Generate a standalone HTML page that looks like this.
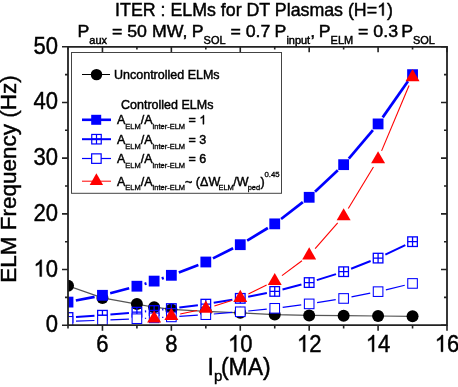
<!DOCTYPE html><html><head><meta charset="utf-8"><style>html,body{margin:0;padding:0;background:#fff;width:458px;height:387px;overflow:hidden}svg{display:block;will-change:transform}text{font-family:"Liberation Sans",sans-serif;fill:#000;stroke:#000;stroke-width:0.45px}</style></head><body><svg width="458" height="387" viewBox="0 0 458 387" font-family="Liberation Sans, sans-serif"><defs><clipPath id="pc"><rect x="68.0" y="46.8" width="379.0" height="278.4"/></clipPath></defs><g clip-path="url(#pc)"><polyline points="68.00,285.78 102.45,297.92 136.91,304.04 154.14,307.22 171.36,309.39 205.82,311.39 240.27,312.78 274.73,314.62 309.18,315.40 343.64,315.68 378.09,316.01 412.55,316.29" fill="none" stroke="#555" stroke-width="1.2"/><g fill="#000"><circle cx="68.00" cy="285.78" r="6"/><circle cx="102.45" cy="297.92" r="6"/><circle cx="136.91" cy="304.04" r="6"/><circle cx="154.14" cy="307.22" r="6"/><circle cx="171.36" cy="309.39" r="6"/><circle cx="205.82" cy="311.39" r="6"/><circle cx="240.27" cy="312.78" r="6"/><circle cx="274.73" cy="314.62" r="6"/><circle cx="309.18" cy="315.40" r="6"/><circle cx="343.64" cy="315.68" r="6"/><circle cx="378.09" cy="316.01" r="6"/><circle cx="412.55" cy="316.29" r="6"/></g><g stroke="#0000ff" stroke-width="2.7" fill="none"><line x1="75.85" y1="300.55" x2="94.61" y2="296.85"/><line x1="110.19" y1="293.26" x2="129.17" y2="288.26"/><line x1="144.58" y1="283.94" x2="146.47" y2="283.38"/><line x1="161.72" y1="278.55" x2="163.78" y2="277.86"/><line x1="178.83" y1="272.43" x2="198.36" y2="264.89"/><line x1="212.97" y1="258.41" x2="233.12" y2="248.28"/><line x1="247.12" y1="240.55" x2="267.88" y2="228.00"/><line x1="281.06" y1="218.98" x2="302.85" y2="202.19"/><line x1="314.99" y1="191.80" x2="337.83" y2="170.18"/><line x1="348.80" y1="158.57" x2="372.93" y2="130.03"/><line x1="382.68" y1="117.36" x2="407.96" y2="81.20"/></g><g fill="#0000ff"><rect x="62.60" y="296.69" width="10.8" height="10.8"/><rect x="97.05" y="289.90" width="10.8" height="10.8"/><rect x="131.51" y="280.82" width="10.8" height="10.8"/><rect x="148.74" y="275.70" width="10.8" height="10.8"/><rect x="165.96" y="269.91" width="10.8" height="10.8"/><rect x="200.42" y="256.60" width="10.8" height="10.8"/><rect x="234.87" y="239.29" width="10.8" height="10.8"/><rect x="269.33" y="218.46" width="10.8" height="10.8"/><rect x="303.78" y="191.90" width="10.8" height="10.8"/><rect x="338.24" y="159.27" width="10.8" height="10.8"/><rect x="372.69" y="118.52" width="10.8" height="10.8"/><rect x="407.15" y="69.24" width="10.8" height="10.8"/></g><g stroke="#0000ff" stroke-width="2" fill="none"><line x1="75.98" y1="316.97" x2="94.47" y2="315.76"/><line x1="110.42" y1="314.53" x2="128.94" y2="312.91"/><line x1="144.87" y1="311.42" x2="146.18" y2="311.29"/><line x1="162.09" y1="309.61" x2="163.41" y2="309.46"/><line x1="179.30" y1="307.55" x2="197.88" y2="305.16"/><line x1="213.71" y1="302.81" x2="232.38" y2="299.68"/><line x1="248.12" y1="296.78" x2="266.88" y2="293.00"/><line x1="282.48" y1="289.43" x2="301.43" y2="284.56"/><line x1="316.81" y1="280.16" x2="336.01" y2="274.10"/><line x1="351.08" y1="268.76" x2="370.65" y2="261.04"/><line x1="385.31" y1="254.66" x2="405.32" y2="245.12"/></g><g stroke="#0000ff" stroke-width="1.3"><rect x="63.20" y="312.70" width="9.6" height="9.6" fill="none"/><path d="M63.20 317.50H72.80M68.00 312.70V322.30"/><rect x="97.65" y="310.43" width="9.6" height="9.6" fill="none"/><path d="M97.65 315.23H107.25M102.45 310.43V320.03"/><rect x="132.11" y="307.41" width="9.6" height="9.6" fill="none"/><path d="M132.11 312.21H141.71M136.91 307.41V317.01"/><rect x="149.34" y="305.70" width="9.6" height="9.6" fill="none"/><path d="M149.34 310.50H158.94M154.14 305.70V315.30"/><rect x="166.56" y="303.77" width="9.6" height="9.6" fill="none"/><path d="M166.56 308.57H176.16M171.36 303.77V313.37"/><rect x="201.02" y="299.33" width="9.6" height="9.6" fill="none"/><path d="M201.02 304.13H210.62M205.82 299.33V308.93"/><rect x="235.47" y="293.56" width="9.6" height="9.6" fill="none"/><path d="M235.47 298.36H245.07M240.27 293.56V303.16"/><rect x="269.93" y="286.62" width="9.6" height="9.6" fill="none"/><path d="M269.93 291.42H279.53M274.73 286.62V296.22"/><rect x="304.38" y="277.77" width="9.6" height="9.6" fill="none"/><path d="M304.38 282.57H313.98M309.18 277.77V287.37"/><rect x="338.84" y="266.89" width="9.6" height="9.6" fill="none"/><path d="M338.84 271.69H348.44M343.64 266.89V276.49"/><rect x="373.29" y="253.31" width="9.6" height="9.6" fill="none"/><path d="M373.29 258.11H382.89M378.09 253.31V262.91"/><rect x="407.75" y="236.88" width="9.6" height="9.6" fill="none"/><path d="M407.75 241.68H417.35M412.55 236.88V246.48"/></g><g stroke="#0000ff" stroke-width="1.2" fill="none"><line x1="76.00" y1="321.09" x2="94.46" y2="320.48"/><line x1="110.45" y1="319.87" x2="128.92" y2="319.05"/><line x1="144.90" y1="318.31" x2="146.15" y2="318.25"/><line x1="162.12" y1="317.40" x2="163.38" y2="317.33"/><line x1="179.35" y1="316.37" x2="197.83" y2="315.18"/><line x1="213.79" y1="314.00" x2="232.30" y2="312.45"/><line x1="248.23" y1="310.98" x2="266.77" y2="309.11"/><line x1="282.66" y1="307.29" x2="301.25" y2="304.90"/><line x1="317.08" y1="302.64" x2="335.73" y2="299.69"/><line x1="351.49" y1="296.90" x2="370.24" y2="293.20"/><line x1="385.87" y1="289.80" x2="404.76" y2="285.29"/></g><g stroke="#0000ff" stroke-width="1.05"><rect x="63.20" y="316.55" width="9.6" height="9.6" fill="#fff"/><rect x="97.65" y="315.42" width="9.6" height="9.6" fill="#fff"/><rect x="132.11" y="313.90" width="9.6" height="9.6" fill="#fff"/><rect x="149.34" y="313.05" width="9.6" height="9.6" fill="#fff"/><rect x="166.56" y="312.09" width="9.6" height="9.6" fill="#fff"/><rect x="201.02" y="309.87" width="9.6" height="9.6" fill="#fff"/><rect x="235.47" y="306.98" width="9.6" height="9.6" fill="#fff"/><rect x="269.93" y="303.51" width="9.6" height="9.6" fill="#fff"/><rect x="304.38" y="299.08" width="9.6" height="9.6" fill="#fff"/><rect x="338.84" y="293.65" width="9.6" height="9.6" fill="#fff"/><rect x="373.29" y="286.85" width="9.6" height="9.6" fill="#fff"/><rect x="407.75" y="278.64" width="9.6" height="9.6" fill="#fff"/></g><g stroke="#ff0000" stroke-width="1.1" fill="none"><line x1="180.17" y1="314.03" x2="197.01" y2="310.47"/><line x1="214.41" y1="305.93" x2="231.68" y2="300.58"/><line x1="248.35" y1="293.94" x2="266.65" y2="284.95"/><line x1="281.95" y1="275.62" x2="301.96" y2="260.74"/><line x1="315.13" y1="248.62" x2="337.69" y2="222.98"/><line x1="348.29" y1="208.53" x2="373.44" y2="166.92"/><line x1="381.58" y1="150.91" x2="409.06" y2="85.49"/></g><g fill="#ff0000"><path d="M154.14 310.43L161.13 322.55L147.14 322.55Z"/><path d="M171.36 307.82L178.36 319.94L164.37 319.94Z"/><path d="M205.82 300.52L212.82 312.64L198.82 312.64Z"/><path d="M240.27 289.83L247.27 301.95L233.28 301.95Z"/><path d="M274.73 272.90L281.72 285.02L267.73 285.02Z"/><path d="M309.18 247.29L316.18 259.41L302.18 259.41Z"/><path d="M343.64 208.15L350.63 220.27L336.64 220.27Z"/><path d="M378.09 151.13L385.09 163.25L371.09 163.25Z"/><path d="M412.55 69.12L419.54 81.24L405.55 81.24Z"/></g></g><path d="M68.0 46.8H447.0V325.2H68.0Z" fill="none" stroke="#222" stroke-width="1.8"/><path d="M68.00 325.2v3.3M68.00 46.8v2.8M102.45 325.2v5.5M102.45 46.8v5.4M136.91 325.2v3.3M136.91 46.8v2.8M171.36 325.2v5.5M171.36 46.8v5.4M205.82 325.2v3.3M205.82 46.8v2.8M240.27 325.2v5.5M240.27 46.8v5.4M274.73 325.2v3.3M274.73 46.8v2.8M309.18 325.2v5.5M309.18 46.8v5.4M343.64 325.2v3.3M343.64 46.8v2.8M378.09 325.2v5.5M378.09 46.8v5.4M412.55 325.2v3.3M412.55 46.8v2.8M447.00 325.2v5.5M447.00 46.8v5.4M68.0 325.20h-6M447.0 325.20h-6M68.0 297.36h-3M447.0 297.36h-3M68.0 269.52h-6M447.0 269.52h-6M68.0 241.68h-3M447.0 241.68h-3M68.0 213.84h-6M447.0 213.84h-6M68.0 186.00h-3M447.0 186.00h-3M68.0 158.16h-6M447.0 158.16h-6M68.0 130.32h-3M447.0 130.32h-3M68.0 102.48h-6M447.0 102.48h-6M68.0 74.64h-3M447.0 74.64h-3M68.0 46.80h-6M447.0 46.80h-6" stroke="#222" stroke-width="1.6" fill="none"/><g font-size="23.2"><text transform="translate(102.45,351.7) scale(0.95,1)" text-anchor="middle">6</text><text transform="translate(171.36,351.7) scale(0.95,1)" text-anchor="middle">8</text><text transform="translate(240.27,351.7) scale(0.95,1)" text-anchor="middle"><tspan class="one" style="fill:none;stroke:none">1</tspan>0</text><text transform="translate(309.18,351.7) scale(0.95,1)" text-anchor="middle"><tspan class="one" style="fill:none;stroke:none">1</tspan>2</text><text transform="translate(378.09,351.7) scale(0.95,1)" text-anchor="middle"><tspan class="one" style="fill:none;stroke:none">1</tspan>4</text><text transform="translate(447.00,351.7) scale(0.95,1)" text-anchor="middle"><tspan class="one" style="fill:none;stroke:none">1</tspan>6</text><text transform="translate(58,332.20) scale(0.95,1)" text-anchor="end">0</text><text transform="translate(58,276.52) scale(0.95,1)" text-anchor="end"><tspan class="one" style="fill:none;stroke:none">1</tspan>0</text><text transform="translate(58,220.84) scale(0.95,1)" text-anchor="end">20</text><text transform="translate(58,165.16) scale(0.95,1)" text-anchor="end">30</text><text transform="translate(58,109.48) scale(0.95,1)" text-anchor="end">40</text><text transform="translate(58,53.80) scale(0.95,1)" text-anchor="end">50</text></g><text transform="translate(16.3,179) rotate(-90)" font-size="22.5" text-anchor="middle">ELM Frequency (Hz)</text><text x="207.5" y="374.5" font-size="23">I<tspan font-size="15" dy="6.5">p</tspan><tspan dy="-6.5" dx="-1.3">(MA)</tspan></text><text x="254" y="15.6" font-size="17.8" text-anchor="middle">ITER : ELMs for DT Plasmas (H=<tspan class="one" style="fill:none;stroke:none">1</tspan>)</text><text transform="translate(77.45,37.2) scale(1.045,1)" font-size="17">P<tspan font-size="10.5" dy="7.1">aux</tspan><tspan dy="-7.1"> = 50 MW,</tspan></text><text transform="translate(191.75,37.2) scale(1.045,1)" font-size="17">P<tspan font-size="10.5" dy="7.1">SOL</tspan><tspan dy="-7.1"> = 0.7</tspan></text><text transform="translate(274.55,37.2) scale(1.045,1)" font-size="17">P<tspan font-size="10.5" dy="7.1">input</tspan><tspan dy="-7.1">,</tspan></text><text transform="translate(318.75,37.2) scale(1.045,1)" font-size="17">P<tspan font-size="10.5" dy="7.1">ELM</tspan><tspan dy="-7.1"> = 0.3</tspan></text><text transform="translate(401.15,37.2) scale(1.045,1)" font-size="17">P<tspan font-size="10.5" dy="7.1">SOL</tspan><tspan dy="-7.1"></tspan></text><rect x="71.5" y="52.5" width="210" height="140.8" fill="#fff" stroke="#444" stroke-width="1"/><line x1="82" y1="74.5" x2="110" y2="74.5" stroke="#000" stroke-width="1"/><circle cx="96.5" cy="74.6" r="5.7" fill="#000"/><text x="114" y="78.7" font-size="12.5">Uncontrolled ELMs</text><text x="121" y="109.2" font-size="12.5">Controlled ELMs</text><line x1="82" y1="119.8" x2="111" y2="119.8" stroke="#00f" stroke-width="2.6"/><rect x="91.2" y="114.8" width="10" height="10" fill="#00f"/><line x1="82" y1="139.2" x2="111" y2="139.2" stroke="#00f" stroke-width="2"/><g stroke="#00f" stroke-width="1.2"><rect x="91.75" y="134.45" width="9.5" height="9.5" fill="none"/><path d="M91.75 139.20H101.25M96.50 134.45V143.95"/></g><line x1="82" y1="158.5" x2="111" y2="158.5" stroke="#00f" stroke-width="1.2"/><g stroke="#00f" stroke-width="1.2"><rect x="91.65" y="153.85" width="9.5" height="9.5" fill="#fff"/></g><line x1="82" y1="181.2" x2="111" y2="181.2" stroke="#f00" stroke-width="1"/><path d="M96.4 173.3L103.1 184.9L89.7 184.9Z" fill="#f00"/><text x="117" y="124.2" font-size="12.5">A<tspan font-size="7.5" dy="4.5" style="stroke-width:0.3px">ELM</tspan><tspan dy="-4.5">/A</tspan><tspan font-size="7.5" dy="4.5" style="stroke-width:0.3px">inter-ELM</tspan><tspan dy="-4.5"> = <tspan class="one" style="fill:none;stroke:none">1</tspan></tspan></text><text x="117" y="144" font-size="12.5">A<tspan font-size="7.5" dy="4.5" style="stroke-width:0.3px">ELM</tspan><tspan dy="-4.5">/A</tspan><tspan font-size="7.5" dy="4.5" style="stroke-width:0.3px">inter-ELM</tspan><tspan dy="-4.5"> = 3</tspan></text><text x="117" y="163.3" font-size="12.5">A<tspan font-size="7.5" dy="4.5" style="stroke-width:0.3px">ELM</tspan><tspan dy="-4.5">/A</tspan><tspan font-size="7.5" dy="4.5" style="stroke-width:0.3px">inter-ELM</tspan><tspan dy="-4.5"> = 6</tspan></text><text x="117" y="185.8" font-size="12.5">A<tspan font-size="7.5" dy="4.5" style="stroke-width:0.3px">ELM</tspan><tspan dy="-4.5">/A</tspan><tspan font-size="7.5" dy="4.5" style="stroke-width:0.3px">inter-ELM</tspan><tspan dy="-4.5">~ (&#916;W</tspan><tspan font-size="7.5" dy="4.5" dx="-1.8" style="stroke-width:0.3px">ELM</tspan><tspan dy="-4.5" dx="-0.6">/W</tspan><tspan font-size="7.5" dy="4.5" dx="-0.8" style="stroke-width:0.3px">ped</tspan><tspan dy="-4.5" dx="0.3">)</tspan><tspan font-size="7.8" dy="-8.6" dx="-0.3" style="stroke-width:0.3px">0.45</tspan></text><path transform="matrix(0.01076 0 0 -0.01133 228.02 351.70)" d="M763 0H583V1147Q518 1085 413 1023T224 930V1104Q375 1175 488 1276T648 1472H763Z" fill="#000" stroke="#000" stroke-width="0.45" vector-effect="non-scaling-stroke"/><path transform="matrix(0.01076 0 0 -0.01133 296.93 351.70)" d="M763 0H583V1147Q518 1085 413 1023T224 930V1104Q375 1175 488 1276T648 1472H763Z" fill="#000" stroke="#000" stroke-width="0.45" vector-effect="non-scaling-stroke"/><path transform="matrix(0.01076 0 0 -0.01133 365.84 351.70)" d="M763 0H583V1147Q518 1085 413 1023T224 930V1104Q375 1175 488 1276T648 1472H763Z" fill="#000" stroke="#000" stroke-width="0.45" vector-effect="non-scaling-stroke"/><path transform="matrix(0.01076 0 0 -0.01133 434.75 351.70)" d="M763 0H583V1147Q518 1085 413 1023T224 930V1104Q375 1175 488 1276T648 1472H763Z" fill="#000" stroke="#000" stroke-width="0.45" vector-effect="non-scaling-stroke"/><path transform="matrix(0.01076 0 0 -0.01133 33.50 276.52)" d="M763 0H583V1147Q518 1085 413 1023T224 930V1104Q375 1175 488 1276T648 1472H763Z" fill="#000" stroke="#000" stroke-width="0.45" vector-effect="non-scaling-stroke"/><path transform="matrix(0.00869 0 0 -0.00869 377.09 15.60)" d="M763 0H583V1147Q518 1085 413 1023T224 930V1104Q375 1175 488 1276T648 1472H763Z" fill="#000" stroke="#000" stroke-width="0.45" vector-effect="non-scaling-stroke"/><path transform="matrix(0.00610 0 0 -0.00610 199.34 124.20)" d="M763 0H583V1147Q518 1085 413 1023T224 930V1104Q375 1175 488 1276T648 1472H763Z" fill="#000" stroke="#000" stroke-width="0.45" vector-effect="non-scaling-stroke"/></svg></body></html>
